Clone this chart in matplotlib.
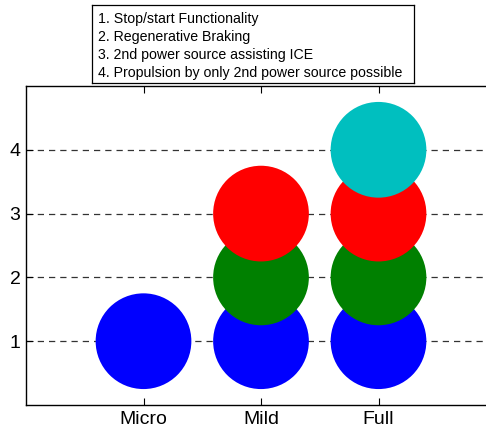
import numpy as np
import matplotlib
matplotlib.use("Agg")
import matplotlib.pyplot as plt

plt.rcParams['font.family'] = ['Liberation Sans', 'DejaVu Sans']

# hybrid classes and how many features each one has
categories = ['Micro', 'Mild', 'Full']
levels = [1, 3, 4]

features = ['1. Stop/start Functionality',
            '2. Regenerative Braking',
            '3. 2nd power source assisting ICE',
            '4. Propulsion by only 2nd power source possible']
colors = ['#0000ff', '#008000', '#ff0000', '#00bfbf']
yticks = [1, 2, 3, 4]

W, H = 486, 432
fig = plt.figure(figsize=(W / 100, H / 100), dpi=100)

# main axes (right edge runs past the picture, like the original crop)
ax = fig.add_axes([26 / W, 27 / H, 470 / W, 319 / H])
x = np.arange(1, len(categories) + 1)
for k, c in enumerate(colors):
    lev = k + 1
    xs = [xi for xi, n in zip(x, levels) if n >= lev]
    ax.scatter(xs, [lev] * len(xs), s=4750, color=c, edgecolors='none',
               zorder=3 + k)

ax.set_xlim(0, 4)
ax.set_ylim(0, 5)
ax.set_xticks(x)
ax.set_xticklabels(categories, fontsize=14)
ax.set_yticks(yticks)
ax.set_yticklabels([str(t) for t in yticks], fontsize=14)
ax.tick_params(direction='in', length=5, width=0.8, top=True, right=True, pad=4)
ax.yaxis.grid(True, linestyle=(0, (5, 4)), color='#333333', linewidth=0.9)
ax.set_axisbelow(True)
for sp in ax.spines.values():
    sp.set_linewidth(1.0)

# feature box on top
lax = fig.add_axes([92 / W, (H - 83) / H, 322 / W, 78 / H])
lax.set_xticks([])
lax.set_yticks([])
for sp in lax.spines.values():
    sp.set_linewidth(0.9)
for i, t in enumerate(features):
    lax.text(6 / 322, 1 - (14 + 18 * i) / 78, t, fontsize=10.2,
             va='center', ha='left', transform=lax.transAxes)

fig.savefig('out.png', dpi=100)
